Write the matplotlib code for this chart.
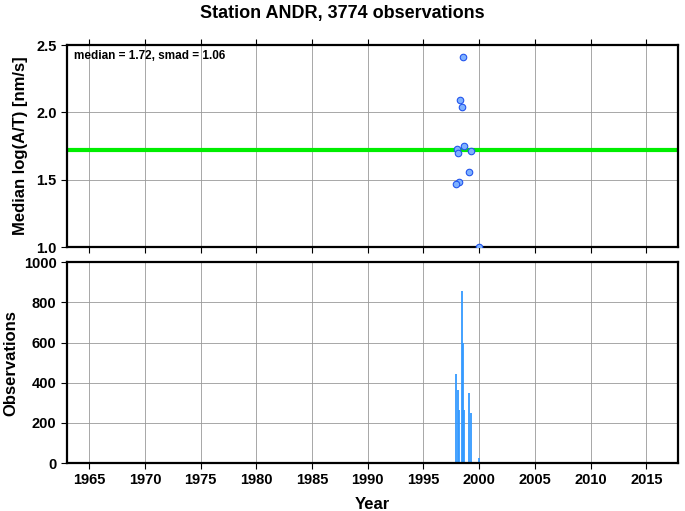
import matplotlib
matplotlib.use("Agg")
import matplotlib.pyplot as plt

plt.rcParams['font.family'] = ['Liberation Sans', 'DejaVu Sans']
plt.rcParams['font.weight'] = 'bold'

title = "Station ANDR, 3774 observations"
median_val = 1.72
smad_val = 1.06

pt_years = [1998.54, 1998.27, 1998.45, 1998.63, 1998.0, 1998.1, 1999.28, 1999.1, 1998.18, 1997.94, 2000.0]
pt_values = [2.41, 2.09, 2.04, 1.75, 1.73, 1.70, 1.71, 1.56, 1.48, 1.47, 1.0]

bar_years = [1997.95, 1998.08, 1998.2, 1998.42, 1998.55, 1998.65, 1999.1, 1999.28, 2000.0]
bar_counts = [443, 363, 264, 856, 600, 264, 348, 249, 25]

xticks = list(range(1965, 2020, 5))

fig = plt.figure(figsize=(6.85, 5.11), dpi=100)
ax1 = fig.add_axes([0.0978, 0.5166, 0.892, 0.395])
ax2 = fig.add_axes([0.0978, 0.0939, 0.892, 0.393])

xlim = (1963.0, 2017.85)
for ax in (ax1, ax2):
    ax.set_xlim(*xlim)
    ax.set_xticks(xticks)
    ax.grid(True, color='#999999', linewidth=0.6)
    ax.set_axisbelow(True)
    for s in ax.spines.values():
        s.set_linewidth(1.6)
    ax.tick_params(direction='out', length=4, width=0.8, labelsize=10.5)

ax1.axhline(median_val, color='#00ee00', linewidth=3, zorder=2)
ax1.scatter(pt_years, pt_values, s=22, facecolor='#7fb2ff', edgecolor='#2255ee',
            linewidth=0.8, zorder=3)
ax1.set_ylim(1.0, 2.5)
ax1.set_yticks([1.0, 1.5, 2.0, 2.5])
ax1.set_yticklabels(['1.0', '1.5', '2.0', '2.5'])
ax1.tick_params(axis='x', labelbottom=False, top=True)
ax1.set_ylabel("Median log(A/T) [nm/s]", fontsize=12, fontweight='bold', labelpad=6)
ax1.text(0.012, 0.975, f"median = {median_val:.2f}, smad = {smad_val:.2f}",
         transform=ax1.transAxes, fontsize=8.5, fontweight='bold', va='top', ha='left')
fig.text(0.5, 0.974, title, ha='center', va='center', fontsize=13, fontweight='bold')

ax2.bar(bar_years, bar_counts, width=0.17, color='#3399ff', alpha=0.9, zorder=2)
ax2.set_ylim(0, 1000)
ax2.set_yticks([0, 200, 400, 600, 800, 1000])
ax2.set_ylabel("Observations", fontsize=12, fontweight='bold')
ax2.set_xlabel("Year", fontsize=12, fontweight='bold', labelpad=7)

fig.savefig("out.png", dpi=100)
